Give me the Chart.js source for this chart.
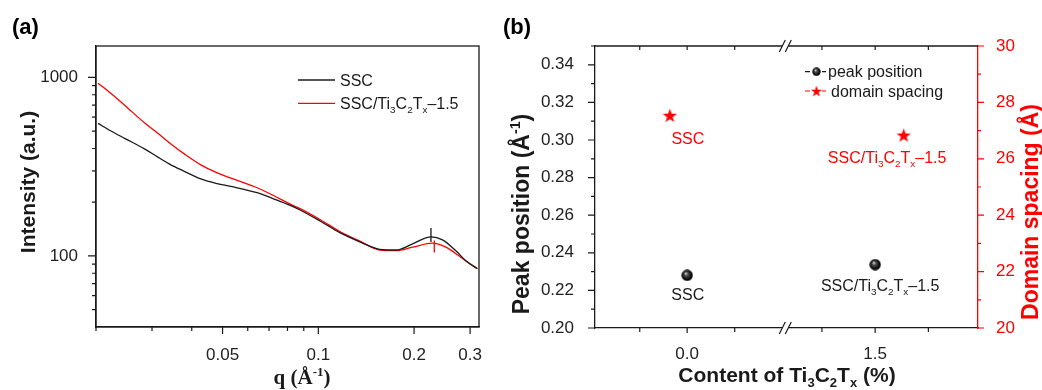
<!DOCTYPE html>
<html>
<head>
<meta charset="utf-8">
<script src="https://cdn.jsdelivr.net/npm/chart.js@4.4.1/dist/chart.umd.min.js"></script>
<style>
  html, body { margin: 0; padding: 0; background: #fff; }
  #wrap { position: relative; width: 1042px; height: 390px; overflow: hidden; }
  #saxsChart { position: absolute; left: 0; top: 0; }
  #peakChart { position: absolute; left: 500px; top: 0; }
</style>
</head>
<body>
<div id="wrap">
  <canvas id="saxsChart" width="500" height="390"></canvas>
  <canvas id="peakChart" width="542" height="390"></canvas>
</div>
<script>
// ---- (a) SAXS curves ----
const qSSC = [0.0203, 0.0223, 0.0246, 0.0284, 0.0313, 0.0344, 0.0379, 0.0427, 0.0481, 0.0556, 0.0642, 0.0723, 0.0816, 0.0876,
  0.1012, 0.1169, 0.135, 0.1559, 0.1758, 0.198, 0.2261, 0.2457, 0.2706, 0.2909, 0.3162];
const intensitySSC = [553, 501, 456, 398, 358, 324, 298, 270, 254, 241, 226, 209, 192, 181,
  157, 135, 120, 109, 108, 117, 128, 123, 107, 94, 85];
const qComposite = [0.0203, 0.0223, 0.0246, 0.0284, 0.0313, 0.0344, 0.0379, 0.0427, 0.0481, 0.0556, 0.0642, 0.0723, 0.0816, 0.0876,
  0.1012, 0.1169, 0.135, 0.1559, 0.1758, 0.198, 0.2287, 0.2518, 0.2772, 0.2978, 0.3162];
const intensityComposite = [929, 812, 699, 557, 487, 424, 373, 324, 292, 265, 241, 218, 195, 184,
  160, 137, 121, 108, 107, 112, 118, 112, 100, 91, 85];
// peak markers (small vertical bars)
const peakQ = [0.226, 0.2315];
const peakI = [131, 113];

const qLabels = [0.05, 0.1, 0.2, 0.3];
const qMinor = [0.02, 0.03, 0.04, 0.06, 0.07, 0.08, 0.09];
const intensityLabels = [100, 1000];
const intensityMinor = [50, 60, 70, 80, 90, 200, 300, 400, 500, 600, 700, 800, 900];

// ---- (b) peak position / domain spacing ----
const contentLabels = ['0.0', '1.5'];
const sampleNames = ['SSC', 'SSC/Ti_{3}C_{2}T_{x}–1.5'];
const peakPosition = [0.228, 0.2337];
const domainSpacing = [27.54, 26.84];
const domainX = [-0.092, 1.152];  // stars sit a bit beside their category in the original
const peakTicks = [0.20, 0.22, 0.24, 0.26, 0.28, 0.30, 0.32, 0.34];
const peakMinor = [0.21, 0.23, 0.25, 0.27, 0.29, 0.31, 0.33, 0.35];
const spacingTicks = [20, 22, 24, 26, 28, 30];
const spacingMinor = [21, 23, 25, 27, 29];
const contentMinor = [-0.252, 0.253, 0.717, 1.283];
const axisBreak = 0.522;

const SANS = '"Liberation Sans", Arial, Helvetica, sans-serif';
const SERIF = '"Liberation Serif", "Times New Roman", serif';
const INK = '#1a1a1a';
const RED = '#ff0000';

// text with _{sub} and ^{sup} parts
function parseRich(str) {
  const parts = [];
  const re = /([_^])\{([^}]*)\}/g;
  let last = 0, m;
  while ((m = re.exec(str))) {
    if (m.index > last) parts.push({ text: str.slice(last, m.index), shift: 0 });
    parts.push({ text: m[2], shift: m[1] === '_' ? 1 : -1 });
    last = re.lastIndex;
  }
  if (last < str.length) parts.push({ text: str.slice(last), shift: 0 });
  return parts;
}

function drawRich(ctx, str, x, y, opt) {
  const size = opt.size;
  const weight = opt.bold ? 'bold ' : '';
  const family = opt.family || SANS;
  const parts = parseRich(str);
  const fontFor = p => weight + (p.shift ? size * 0.62 : size) + 'px ' + family;
  let total = 0;
  parts.forEach(p => {
    ctx.font = fontFor(p);
    p.w = ctx.measureText(p.text).width;
    total += p.w;
  });
  let cx = opt.align === 'center' ? x - total / 2 : (opt.align === 'right' ? x - total : x);
  ctx.save();
  ctx.fillStyle = opt.color || INK;
  ctx.textBaseline = 'alphabetic';
  ctx.textAlign = 'left';
  parts.forEach(p => {
    ctx.font = fontFor(p);
    const dy = p.shift === 1 ? size * 0.24 : (p.shift === -1 ? -size * 0.4 : 0);
    ctx.fillText(p.text, cx, y + dy);
    cx += p.w;
  });
  ctx.restore();
}

// centred on (x, y), optionally turned to read bottom-to-top
function drawLabel(ctx, str, x, y, opt) {
  if (opt.vertical) {
    ctx.save();
    ctx.translate(x, y);
    ctx.rotate(-Math.PI / 2);
    drawRich(ctx, str, 0, opt.size * 0.35, Object.assign({ align: 'center' }, opt));
    ctx.restore();
  } else {
    drawRich(ctx, str, x, y + opt.size * 0.35, Object.assign({ align: 'center' }, opt));
  }
}

function tickMarks(ctx, scale, values, edge, len, dir, color) {
  ctx.save();
  ctx.strokeStyle = color || INK;
  ctx.lineWidth = 1.2;
  ctx.beginPath();
  values.forEach(v => {
    const p = scale.getPixelForValue(v);
    if (dir === 'left') { ctx.moveTo(edge, p); ctx.lineTo(edge - len, p); }
    if (dir === 'right') { ctx.moveTo(edge, p); ctx.lineTo(edge + len, p); }
    if (dir === 'down') { ctx.moveTo(p, edge); ctx.lineTo(p, edge + len); }
    if (dir === 'up') { ctx.moveTo(p, edge); ctx.lineTo(p, edge - len); }
  });
  ctx.stroke();
  ctx.restore();
}

function makeSphere(d) {
  const c = document.createElement('canvas');
  c.width = c.height = d;
  const g = c.getContext('2d');
  const r = d / 2;
  const grad = g.createRadialGradient(r * 0.75, r * 0.65, 0, r, r, r);
  grad.addColorStop(0, '#f2f2f2');
  grad.addColorStop(0.3, '#555');
  grad.addColorStop(0.7, '#111');
  grad.addColorStop(1, '#000');
  g.fillStyle = grad;
  g.beginPath();
  g.arc(r, r, r - 0.3, 0, Math.PI * 2);
  g.fill();
  return c;
}

function makeStar(d, color) {
  const c = document.createElement('canvas');
  c.width = c.height = d;
  const g = c.getContext('2d');
  const R = d / 2, r = R * 0.4, cx = d / 2, cy = d / 2 + R * 0.1;
  g.fillStyle = color;
  g.beginPath();
  for (let i = 0; i < 10; i++) {
    const rad = i % 2 ? r : R;
    const a = -Math.PI / 2 + i * Math.PI / 5;
    g.lineTo(cx + rad * Math.cos(a), cy + rad * Math.sin(a));
  }
  g.closePath();
  g.fill();
  return c;
}

const sphere = makeSphere(12);
const sphereSmall = makeSphere(9);
const star = makeStar(15, RED);
const starSmall = makeStar(12, RED);

const tickFont = { family: SANS, size: 17 };

// ---- (a) ----
const saxsDecor = {
  id: 'saxsDecor',
  afterDraw(chart) {
    const ctx = chart.ctx;
    const a = chart.chartArea;
    const xs = chart.scales.x, ys = chart.scales.y;

    ctx.save();
    ctx.strokeStyle = INK;
    ctx.lineWidth = 1.3;
    ctx.strokeRect(a.left, a.top, a.right - a.left, a.bottom - a.top);
    ctx.restore();

    tickMarks(ctx, ys, intensityLabels, a.left, 8, 'left');
    tickMarks(ctx, ys, intensityMinor, a.left, 4, 'left');
    tickMarks(ctx, xs, qLabels, a.bottom, 7, 'down');
    tickMarks(ctx, xs, qMinor, a.bottom, 4, 'down');

    // legend
    const rows = [
      { y: 80, color: INK, text: 'SSC' },
      { y: 103.3, color: RED, text: sampleNames[1] }
    ];
    rows.forEach(r => {
      ctx.save();
      ctx.strokeStyle = r.color;
      ctx.lineWidth = 1.3;
      ctx.beginPath();
      ctx.moveTo(298, r.y);
      ctx.lineTo(335, r.y);
      ctx.stroke();
      ctx.restore();
      drawRich(ctx, r.text, 340, r.y + 5.6, { size: 16 });
    });

    drawLabel(ctx, 'Intensity (a.u.)', 28, 182, { size: 21, bold: true, vertical: true });
    drawLabel(ctx, 'q (Å^{-1})', 302, 377, { size: 21, bold: true, family: SERIF });
    drawRich(ctx, '(a)', 12, 34, { size: 22, bold: true, color: '#000' });
  }
};

new Chart(document.getElementById('saxsChart'), {
  type: 'line',
  data: {
    datasets: [
      {
        label: 'SSC',
        data: qSSC.map((q, i) => ({ x: q, y: intensitySSC[i] })),
        borderColor: INK,
        borderWidth: 1.3,
        pointRadius: 0,
        cubicInterpolationMode: 'monotone',
        fill: false
      },
      {
        label: 'SSC/Ti3C2Tx-1.5',
        data: qComposite.map((q, i) => ({ x: q, y: intensityComposite[i] })),
        borderColor: RED,
        borderWidth: 1.3,
        pointRadius: 0,
        cubicInterpolationMode: 'monotone',
        fill: false
      },
      {
        label: 'SSC peak',
        data: [{ x: peakQ[0], y: peakI[0] }],
        showLine: false,
        pointStyle: 'line',
        pointRotation: 90,
        pointRadius: 7,
        pointBorderColor: INK,
        pointBorderWidth: 1.3
      },
      {
        label: 'composite peak',
        data: [{ x: peakQ[1], y: peakI[1] }],
        showLine: false,
        pointStyle: 'line',
        pointRotation: 90,
        pointRadius: 6,
        pointBorderColor: RED,
        pointBorderWidth: 1.3
      }
    ]
  },
  options: {
    responsive: false,
    animation: false,
    devicePixelRatio: 1,
    layout: { padding: { top: 46, right: 21, left: 0, bottom: 0 } },
    plugins: { legend: { display: false }, tooltip: { enabled: false } },
    scales: {
      x: {
        type: 'logarithmic',
        min: 0.02,
        max: 0.32,
        grid: { display: false },
        border: { color: INK, width: 1.3 },
        afterBuildTicks: s => { s.ticks = qLabels.map(v => ({ value: v })); },
        afterFit: s => { s.height = 63; },
        ticks: { autoSkip: false, maxRotation: 0, padding: 10, color: '#222', font: tickFont,
          callback: v => String(v) }
      },
      y: {
        type: 'logarithmic',
        min: 40,
        max: 1500,
        grid: { display: false },
        border: { color: INK, width: 1.3 },
        afterBuildTicks: s => { s.ticks = intensityLabels.map(v => ({ value: v })); },
        afterFit: s => { s.width = 96; },
        ticks: { autoSkip: false, padding: 10, color: '#222', font: tickFont,
          callback: v => String(v) }
      }
    }
  },
  plugins: [saxsDecor]
});

// ---- (b) ----
const peakDecor = {
  id: 'peakDecor',
  afterDraw(chart) {
    const ctx = chart.ctx;
    const a = chart.chartArea;
    const xs = chart.scales.x, yl = chart.scales.y, yr = chart.scales.y1;

    // top frame line
    ctx.save();
    ctx.strokeStyle = INK;
    ctx.lineWidth = 1.3;
    ctx.beginPath();
    ctx.moveTo(a.left, a.top);
    ctx.lineTo(a.right, a.top);
    ctx.stroke();
    ctx.restore();

    tickMarks(ctx, yl, peakTicks, a.left, 7, 'left');
    tickMarks(ctx, yl, peakMinor, a.left, 4, 'left');
    tickMarks(ctx, yr, spacingTicks, a.right, 6, 'right', RED);
    tickMarks(ctx, yr, spacingMinor, a.right, 3, 'right', RED);
    tickMarks(ctx, xs, [0, 1], a.bottom, 5, 'down');
    tickMarks(ctx, xs, contentMinor, a.bottom, 4, 'down');
    tickMarks(ctx, xs, [0, 1], a.top, 4, 'down');
    tickMarks(ctx, xs, contentMinor, a.top, 4, 'down');

    // axis break marks
    const bx = xs.getPixelForValue(axisBreak);
    [a.top, a.bottom].forEach(y => {
      ctx.save();
      ctx.fillStyle = '#fff';
      ctx.fillRect(bx - 3, y - 2, 6, 4);
      ctx.strokeStyle = INK;
      ctx.lineWidth = 1.2;
      ctx.beginPath();
      [-3, 3].forEach(o => {
        ctx.moveTo(bx + o - 3, y + 6);
        ctx.lineTo(bx + o + 3, y - 6);
      });
      ctx.stroke();
      ctx.restore();
    });

    // sample names next to the markers
    const spheres = chart.getDatasetMeta(0).data;
    const stars = chart.getDatasetMeta(1).data;
    const blackOff = [[0.6, 18.6], [5, 21]];
    const redOff = [[18, 23.3], [-16.6, 22.3]];
    sampleNames.forEach((name, i) => {
      drawLabel(ctx, name, spheres[i].x + blackOff[i][0], spheres[i].y + blackOff[i][1], { size: 16 });
      drawLabel(ctx, name, stars[i].x + redOff[i][0], stars[i].y + redOff[i][1], { size: 16, color: RED });
    });

    // legend
    const legendRows = [
      { y: 71.7, color: INK, img: sphereSmall, text: 'peak position', tx: 328 },
      { y: 91, color: RED, img: starSmall, text: 'domain spacing', tx: 331 }
    ];
    legendRows.forEach(r => {
      ctx.save();
      ctx.strokeStyle = r.color;
      ctx.lineWidth = 1.2;
      ctx.beginPath();
      ctx.moveTo(305, r.y); ctx.lineTo(310, r.y);
      ctx.moveTo(322, r.y); ctx.lineTo(326, r.y);
      ctx.stroke();
      ctx.drawImage(r.img, 316.5 - r.img.width / 2, r.y - r.img.height / 2);
      ctx.restore();
      drawRich(ctx, r.text, r.tx, r.y + 5.6, { size: 16 });
    });

    drawLabel(ctx, 'Peak position (Å^{-1})', 21, 214, { size: 23, bold: true, vertical: true });
    drawLabel(ctx, 'Domain spacing (Å)', 530, 212, { size: 23, bold: true, vertical: true, color: RED });
    drawLabel(ctx, 'Content of Ti_{3}C_{2}T_{x} (%)', 287, 375, { size: 21, bold: true });
    drawRich(ctx, '(b)', 3, 34, { size: 22, bold: true, color: '#000' });
  }
};

new Chart(document.getElementById('peakChart'), {
  type: 'scatter',
  data: {
    datasets: [
      {
        label: 'peak position',
        data: peakPosition.map((v, i) => ({ x: i, y: v })),
        yAxisID: 'y',
        pointStyle: sphere,
        pointRadius: 6
      },
      {
        label: 'domain spacing',
        data: domainSpacing.map((v, i) => ({ x: domainX[i], y: v })),
        yAxisID: 'y1',
        pointStyle: star,
        pointRadius: 7
      }
    ]
  },
  options: {
    responsive: false,
    animation: false,
    devicePixelRatio: 1,
    layout: { padding: { top: 46, right: 0, left: 0, bottom: 0 } },
    plugins: { legend: { display: false }, tooltip: { enabled: false } },
    scales: {
      x: {
        type: 'linear',
        min: -0.49,
        max: 1.547,
        grid: { display: false },
        border: { color: INK, width: 1.3 },
        afterBuildTicks: s => { s.ticks = contentLabels.map((l, i) => ({ value: i })); },
        afterFit: s => { s.height = 62; },
        ticks: { autoSkip: false, maxRotation: 0, padding: 8, color: '#222', font: tickFont,
          callback: v => contentLabels[v] }
      },
      y: {
        type: 'linear',
        position: 'left',
        min: 0.2,
        max: 0.35,
        grid: { display: false },
        border: { color: INK, width: 1.3 },
        afterBuildTicks: s => { s.ticks = peakTicks.map(v => ({ value: v })); },
        afterFit: s => { s.width = 95; },
        ticks: { autoSkip: false, padding: 13, color: '#222', font: tickFont,
          callback: v => v.toFixed(2) }
      },
      y1: {
        type: 'linear',
        position: 'right',
        min: 20,
        max: 30,
        grid: { display: false },
        border: { color: RED, width: 1.3 },
        afterBuildTicks: s => { s.ticks = spacingTicks.map(v => ({ value: v })); },
        afterFit: s => { s.width = 64; },
        ticks: { autoSkip: false, padding: 10, color: RED, font: tickFont,
          callback: v => String(v) }
      }
    }
  },
  plugins: [peakDecor]
});
</script>
</body>
</html>
